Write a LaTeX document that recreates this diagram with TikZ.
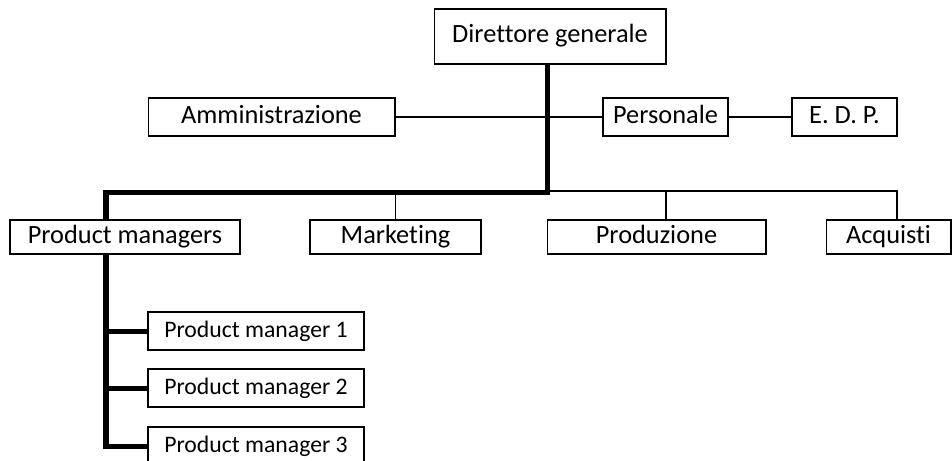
\documentclass[tikz,border=0pt]{standalone}
\usepackage{fontspec}
\setmainfont{Carlito}[Ligatures=NoCommon]
\begin{document}
\begin{tikzpicture}[x=0.02cm,y=-0.02cm,
  unit/.style={draw,line width=0.6pt,fill=white,inner sep=0pt,
    text height=0.9em,text depth=0.2em,
    font=\fontsize{15}{18}\selectfont},
  subunit/.style={unit,minimum width=4.32cm,minimum height=0.76cm,
    text height=0.95em,text depth=0.2em,
    font=\fontsize{13.5}{16}\selectfont},
  thinline/.style={line width=0.6pt},
  heavyline/.style={line width=2.85pt}]
  \useasboundingbox (0,0) rectangle (952,460);
  % top levels
  \node[unit,minimum width=4.64cm,minimum height=1.10cm] (dg) at (550,36.5) {Direttore generale};
  \node[unit,minimum width=4.94cm,minimum height=0.76cm] (amm) at (271.5,117) {Amministrazione};
  \node[unit,minimum width=2.50cm,minimum height=0.76cm] (pers) at (665.5,117) {Personale};
  \node[unit,minimum width=2.10cm,minimum height=0.76cm] (edp) at (844.5,117) {E. D. P.};
  % departments
  \node[unit,minimum width=4.60cm,minimum height=0.68cm] (pm) at (125,237) {Product managers};
  \node[unit,minimum width=3.42cm,minimum height=0.68cm] (mkt) at (395.5,237) {Marketing};
  \node[unit,minimum width=4.38cm,minimum height=0.68cm] (prod) at (656.5,237) {Produzione};
  \node[unit,minimum width=2.50cm,minimum height=0.68cm] (acq) at (888.5,237) {Acquisti};
  % product managers
  \node[subunit] (pm1) at (256,331) {Product manager 1};
  \node[subunit] (pm2) at (256,388) {Product manager 2};
  \node[subunit] (pm3) at (256,446) {Product manager 3};
  \coordinate (j) at (547,192.5);
  \coordinate (pmx) at (106,192.5);
  \coordinate (bus) at (897,191);
  \coordinate (dprod) at (666,191);
  % staff
  \draw[thinline] (amm.east) -- (pers.west);
  \draw[thinline] (pers.east) -- (edp.west);
  % line
  \draw[thinline] (j |- bus) -- (bus) -- (bus |- acq.north);
  \draw[thinline] (mkt.north) -- (mkt.north |- bus);
  \draw[thinline] (dprod) -- (dprod |- prod.north);
  \draw[heavyline] (dg.south -| j) -- (j) -- (pmx) -- (pmx |- pm.north);
  \draw[heavyline] (pmx |- pm.south) -- (pmx |- pm3.west) -- (pm3.west);
  \draw[heavyline] (pmx |- pm1.west) -- (pm1.west);
  \draw[heavyline] (pmx |- pm2.west) -- (pm2.west);
\end{tikzpicture}
\end{document}
